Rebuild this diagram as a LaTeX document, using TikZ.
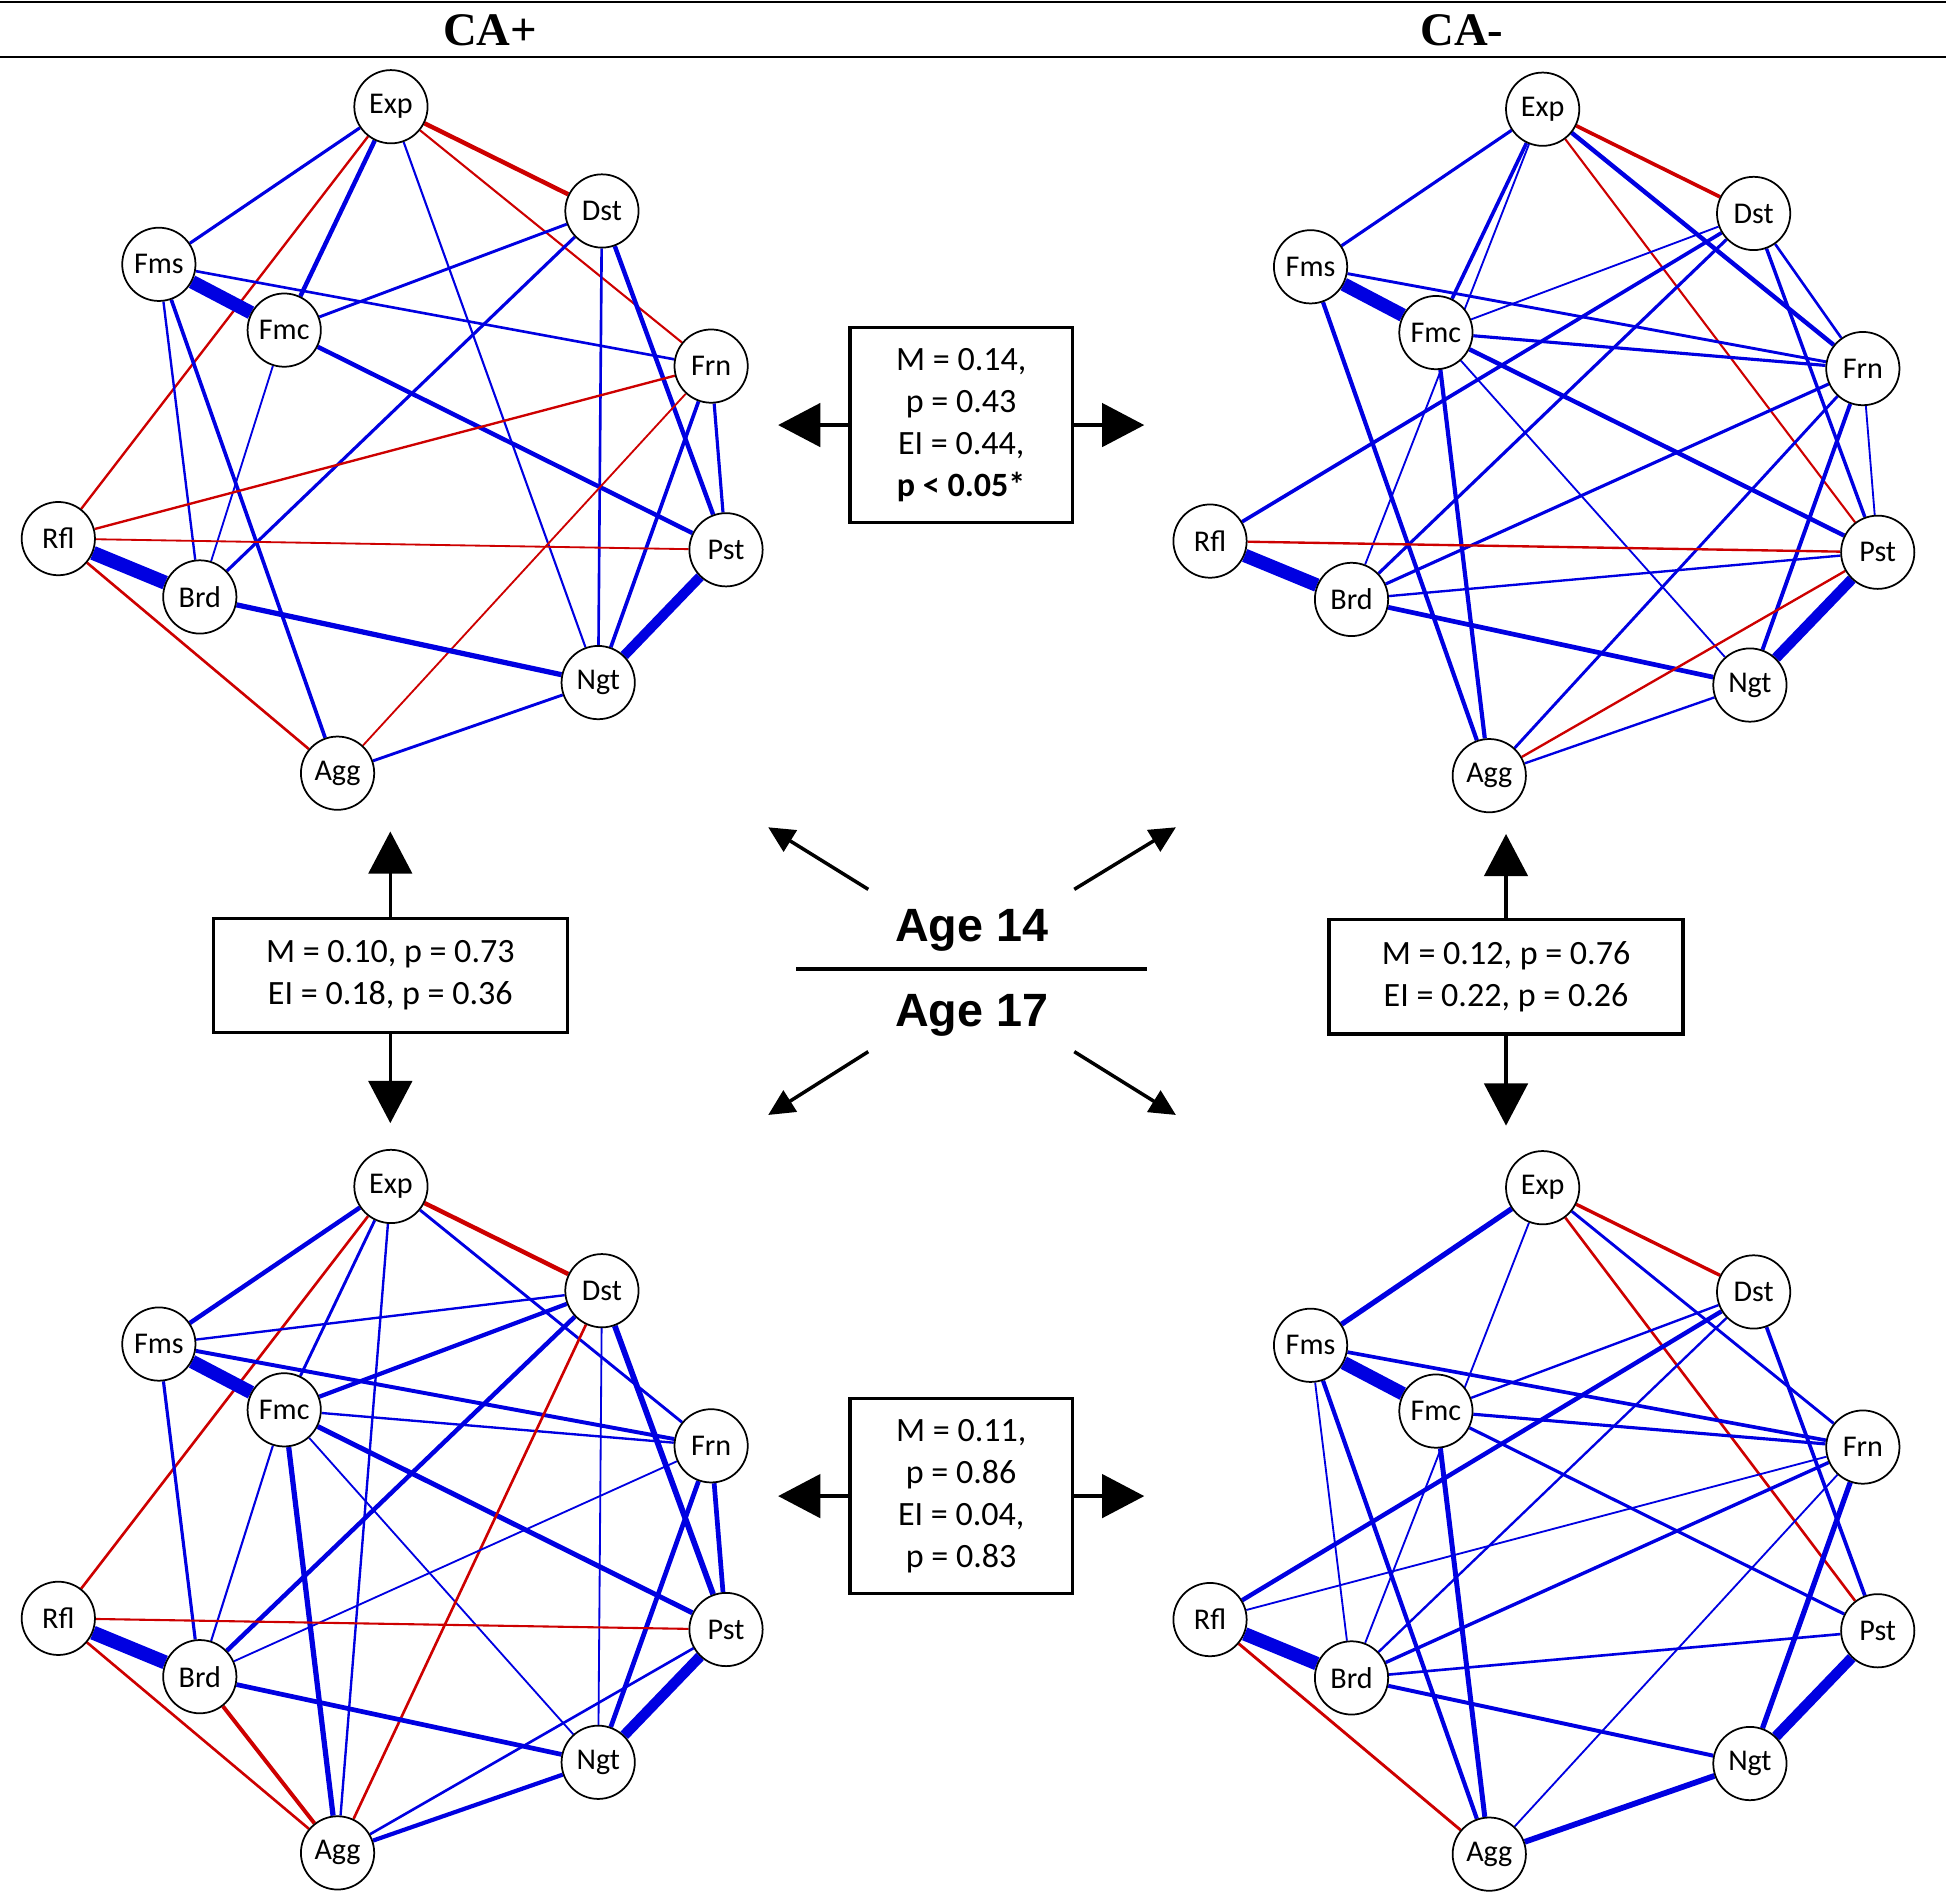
\documentclass[tikz,border=0pt]{standalone}
\usepackage{fontspec}
\setmainfont{Carlito}
\newfontfamily\headfont{Liberation Serif}
\newfontfamily\agefont{Liberation Sans}
\usepackage{xcolor}
\usepackage{tikz}
\usetikzlibrary{arrows.meta, backgrounds}
\definecolor{netblue}{RGB}{0,0,225}
\definecolor{netred}{RGB}{205,0,0}
\tikzset{
  itemnode/.style={circle, draw, line width=0.4pt, fill=white,
    minimum size=5.9mm, inner sep=0pt, font=\fontsize{6.9}{8}\selectfont},
  statbox/.style={draw, line width=0.8pt, align=center, fill=white,
    inner sep=0pt, font=\fontsize{7.8}{9.6}\selectfont},
  statarrow/.style={-{Triangle[length=3.4mm,width=3.5mm]}, line width=0.8pt},
  agearrow/.style={-{Triangle[length=2.1mm,width=2mm]}, line width=0.8pt},
  blueedge/.style={netblue, line width=1.2*#1},
  rededge/.style={netred, line width=1.2*#1},
  headlabel/.style={font=\headfont\bfseries\fontsize{10.7}{12}\selectfont},
  agelabel/.style={anchor=base, font=\agefont\bfseries\fontsize{10.7}{12}\selectfont},
}
% the ten items of one network
\newcommand{\placeitems}[1]{%
  \node[itemnode] (#1Exp) at (315,86)  {Exp};
  \node[itemnode] (#1Dst) at (485,170) {Dst};
  \node[itemnode] (#1Fms) at (128,213) {Fms};
  \node[itemnode] (#1Fmc) at (229,266) {Fmc};
  \node[itemnode] (#1Frn) at (573,295) {Frn};
  \node[itemnode] (#1Rfl) at (47,434)  {Rfl};
  \node[itemnode] (#1Pst) at (585,443) {Pst};
  \node[itemnode] (#1Brd) at (161,481) {Brd};
  \node[itemnode] (#1Ngt) at (482,550) {Ngt};
  \node[itemnode] (#1Agg) at (272,623) {Agg};
}

\begin{document}
\begin{tikzpicture}[x=0.01cm, y=-0.01cm]
  \useasboundingbox (0,0) rectangle (1568,1525);

  % header
  \coordinate (hdrTopL) at (0,1.5);
  \coordinate (hdrTopR) at (1568,1.5);
  \coordinate (hdrBotL) at (0,46);
  \coordinate (hdrBotR) at (1568,46);
  \draw[line width=0.6pt] (hdrTopL) -- (hdrTopR);
  \draw[line width=0.6pt] (hdrBotL) -- (hdrBotR);
  \node[headlabel] (capos) at (395,24) {CA+};
  \node[headlabel] (caneg) at (1178,24) {CA-};

  % networks
  \begin{scope}\placeitems{p14}\end{scope}
  \begin{scope}[shift={(928,2)}]\placeitems{n14}\end{scope}
  \begin{scope}[shift={(0,870)}]\placeitems{p17}\end{scope}
  \begin{scope}[shift={(928,871)}]\placeitems{n17}\end{scope}

  \begin{scope}[on background layer]
    % CA+, age 14
    \draw[blueedge=0.6pt]  (p14Exp) -- (p14Fms);
    \draw[blueedge=0.85pt] (p14Exp) -- (p14Fmc);
    \draw[rededge=0.45pt]  (p14Exp) -- (p14Rfl);
    \draw[rededge=0.85pt]  (p14Exp) -- (p14Dst);
    \draw[rededge=0.4pt]   (p14Exp) -- (p14Frn);
    \draw[blueedge=0.4pt]  (p14Exp) -- (p14Ngt);
    \draw[blueedge=2.6pt]  (p14Fms) -- (p14Fmc);
    \draw[blueedge=0.5pt]  (p14Fms) -- (p14Frn);
    \draw[blueedge=0.45pt] (p14Fms) -- (p14Brd);
    \draw[blueedge=0.7pt]  (p14Fms) -- (p14Agg);
    \draw[blueedge=0.55pt] (p14Fmc) -- (p14Dst);
    \draw[blueedge=0.85pt] (p14Fmc) -- (p14Pst);
    \draw[blueedge=0.35pt] (p14Fmc) -- (p14Brd);
    \draw[blueedge=0.6pt]  (p14Dst) -- (p14Brd);
    \draw[blueedge=0.5pt]  (p14Dst) -- (p14Ngt);
    \draw[blueedge=0.85pt] (p14Dst) -- (p14Pst);
    \draw[rededge=0.45pt]  (p14Frn) -- (p14Rfl);
    \draw[rededge=0.35pt]  (p14Frn) -- (p14Agg);
    \draw[blueedge=0.6pt]  (p14Frn) -- (p14Pst);
    \draw[blueedge=0.7pt]  (p14Frn) -- (p14Ngt);
    \draw[rededge=0.35pt]  (p14Rfl) -- (p14Pst);
    \draw[blueedge=2.7pt]  (p14Rfl) -- (p14Brd);
    \draw[rededge=0.5pt]   (p14Rfl) -- (p14Agg);
    \draw[blueedge=1pt]    (p14Brd) -- (p14Ngt);
    \draw[blueedge=1.9pt]  (p14Pst) -- (p14Ngt);
    \draw[blueedge=0.55pt] (p14Agg) -- (p14Ngt);

    % CA-, age 14
    \draw[blueedge=0.6pt]  (n14Exp) -- (n14Fms);
    \draw[blueedge=0.7pt]  (n14Exp) -- (n14Fmc);
    \draw[blueedge=0.35pt] (n14Exp) -- (n14Brd);
    \draw[rededge=0.7pt]   (n14Exp) -- (n14Dst);
    \draw[rededge=0.4pt]   (n14Exp) -- (n14Pst);
    \draw[blueedge=0.85pt] (n14Exp) -- (n14Frn);
    \draw[blueedge=2.6pt]  (n14Fms) -- (n14Fmc);
    \draw[blueedge=0.55pt] (n14Fms) -- (n14Frn);
    \draw[blueedge=0.8pt]  (n14Fms) -- (n14Agg);
    \draw[blueedge=0.35pt] (n14Fmc) -- (n14Dst);
    \draw[blueedge=0.6pt]  (n14Fmc) -- (n14Frn);
    \draw[blueedge=0.85pt] (n14Fmc) -- (n14Pst);
    \draw[blueedge=0.35pt] (n14Fmc) -- (n14Ngt);
    \draw[blueedge=0.8pt]  (n14Fmc) -- (n14Agg);
    \draw[blueedge=0.7pt]  (n14Dst) -- (n14Rfl);
    \draw[blueedge=0.6pt]  (n14Dst) -- (n14Brd);
    \draw[blueedge=0.5pt]  (n14Dst) -- (n14Frn);
    \draw[blueedge=0.65pt] (n14Dst) -- (n14Pst);
    \draw[blueedge=0.6pt]  (n14Frn) -- (n14Brd);
    \draw[blueedge=0.55pt] (n14Frn) -- (n14Agg);
    \draw[blueedge=0.35pt] (n14Frn) -- (n14Pst);
    \draw[blueedge=0.75pt] (n14Frn) -- (n14Ngt);
    \draw[rededge=0.45pt]  (n14Rfl) -- (n14Pst);
    \draw[blueedge=2.6pt]  (n14Rfl) -- (n14Brd);
    \draw[blueedge=0.45pt] (n14Brd) -- (n14Pst);
    \draw[blueedge=0.9pt]  (n14Brd) -- (n14Ngt);
    \draw[rededge=0.45pt]  (n14Pst) -- (n14Agg);
    \draw[blueedge=2pt]    (n14Pst) -- (n14Ngt);
    \draw[blueedge=0.45pt] (n14Ngt) -- (n14Agg);

    % CA+, age 17
    \draw[blueedge=0.85pt] (p17Exp) -- (p17Fms);
    \draw[rededge=0.5pt]   (p17Exp) -- (p17Rfl);
    \draw[blueedge=0.55pt] (p17Exp) -- (p17Fmc);
    \draw[blueedge=0.45pt] (p17Exp) -- (p17Agg);
    \draw[rededge=0.85pt]  (p17Exp) -- (p17Dst);
    \draw[blueedge=0.55pt] (p17Exp) -- (p17Frn);
    \draw[blueedge=0.45pt] (p17Fms) -- (p17Dst);
    \draw[blueedge=2.6pt]  (p17Fms) -- (p17Fmc);
    \draw[blueedge=0.75pt] (p17Fms) -- (p17Frn);
    \draw[blueedge=0.6pt]  (p17Fms) -- (p17Brd);
    \draw[blueedge=0.8pt]  (p17Fmc) -- (p17Dst);
    \draw[blueedge=0.45pt] (p17Fmc) -- (p17Frn);
    \draw[blueedge=0.95pt] (p17Fmc) -- (p17Pst);
    \draw[blueedge=0.35pt] (p17Fmc) -- (p17Ngt);
    \draw[blueedge=1pt]    (p17Fmc) -- (p17Agg);
    \draw[blueedge=0.4pt]  (p17Fmc) -- (p17Brd);
    \draw[blueedge=0.85pt] (p17Dst) -- (p17Brd);
    \draw[rededge=0.5pt]   (p17Dst) -- (p17Agg);
    \draw[blueedge=0.35pt] (p17Dst) -- (p17Ngt);
    \draw[blueedge=1.1pt]  (p17Dst) -- (p17Pst);
    \draw[blueedge=0.35pt] (p17Frn) -- (p17Brd);
    \draw[blueedge=0.9pt]  (p17Frn) -- (p17Pst);
    \draw[blueedge=0.9pt]  (p17Frn) -- (p17Ngt);
    \draw[rededge=0.4pt]   (p17Rfl) -- (p17Pst);
    \draw[blueedge=2.7pt]  (p17Rfl) -- (p17Brd);
    \draw[rededge=0.5pt]   (p17Rfl) -- (p17Agg);
    \draw[rededge=0.75pt]  (p17Brd) -- (p17Agg);
    \draw[blueedge=0.9pt]  (p17Brd) -- (p17Ngt);
    \draw[blueedge=0.5pt]  (p17Pst) -- (p17Agg);
    \draw[blueedge=2pt]    (p17Pst) -- (p17Ngt);
    \draw[blueedge=0.8pt]  (p17Ngt) -- (p17Agg);

    % CA-, age 17
    \draw[blueedge=1pt]    (n17Exp) -- (n17Fms);
    \draw[blueedge=0.35pt] (n17Exp) -- (n17Brd);
    \draw[rededge=0.65pt]  (n17Exp) -- (n17Dst);
    \draw[rededge=0.5pt]   (n17Exp) -- (n17Pst);
    \draw[blueedge=0.55pt] (n17Exp) -- (n17Frn);
    \draw[blueedge=2.6pt]  (n17Fms) -- (n17Fmc);
    \draw[blueedge=0.7pt]  (n17Fms) -- (n17Frn);
    \draw[blueedge=0.35pt] (n17Fms) -- (n17Brd);
    \draw[blueedge=0.8pt]  (n17Fms) -- (n17Agg);
    \draw[blueedge=0.45pt] (n17Fmc) -- (n17Dst);
    \draw[blueedge=0.6pt]  (n17Fmc) -- (n17Frn);
    \draw[blueedge=0.6pt]  (n17Fmc) -- (n17Pst);
    \draw[blueedge=0.95pt] (n17Fmc) -- (n17Agg);
    \draw[blueedge=0.85pt] (n17Dst) -- (n17Rfl);
    \draw[blueedge=0.45pt] (n17Dst) -- (n17Brd);
    \draw[blueedge=0.7pt]  (n17Dst) -- (n17Pst);
    \draw[blueedge=0.35pt] (n17Frn) -- (n17Rfl);
    \draw[blueedge=0.65pt] (n17Frn) -- (n17Brd);
    \draw[blueedge=0.35pt] (n17Frn) -- (n17Agg);
    \draw[blueedge=1pt]    (n17Frn) -- (n17Ngt);
    \draw[blueedge=2.6pt]  (n17Rfl) -- (n17Brd);
    \draw[rededge=0.55pt]  (n17Rfl) -- (n17Agg);
    \draw[blueedge=0.5pt]  (n17Brd) -- (n17Pst);
    \draw[blueedge=0.75pt] (n17Brd) -- (n17Ngt);
    \draw[blueedge=2pt]    (n17Pst) -- (n17Ngt);
    \draw[blueedge=1.1pt]  (n17Ngt) -- (n17Agg);
  \end{scope}

  % comparison boxes
  \node[statbox, minimum width=17.9mm, minimum height=15.7mm] (cmp14) at (774.5,342.5)
    {M = 0.14,\\p = 0.43\\EI = 0.44,\\\textbf{p < 0.05*}};
  \node[statbox, minimum width=17.9mm, minimum height=15.7mm] (cmp17) at (774.5,1205.5)
    {M = 0.11,\\p = 0.86\\EI = 0.04,\\p = 0.83};
  \node[statbox, minimum width=28.5mm, minimum height=9.2mm] (cmppos) at (314.5,786)
    {M = 0.10, p = 0.73\\EI = 0.18, p = 0.36};
  \node[statbox, minimum width=28.5mm, minimum height=9.2mm] (cmpneg) at (1213.5,787)
    {M = 0.12, p = 0.76\\EI = 0.22, p = 0.26};

  \coordinate (tip14L) at (627,342.5);
  \coordinate (tip14R) at (922,342.5);
  \coordinate (tip17L) at (627,1205.5);
  \coordinate (tip17R) at (922,1205.5);
  \coordinate (tipposU) at (314.5,670);
  \coordinate (tipposD) at (314.5,905);
  \coordinate (tipnegU) at (1213.5,672);
  \coordinate (tipnegD) at (1213.5,907);
  \draw[statarrow] (cmp14.west) -- (tip14L);
  \draw[statarrow] (cmp14.east) -- (tip14R);
  \draw[statarrow] (cmp17.west) -- (tip17L);
  \draw[statarrow] (cmp17.east) -- (tip17R);
  \draw[statarrow] (cmppos.north) -- (tipposU);
  \draw[statarrow] (cmppos.south) -- (tipposD);
  \draw[statarrow] (cmpneg.north) -- (tipnegU);
  \draw[statarrow] (cmpneg.south) -- (tipnegD);

  % age legend
  \node[agelabel] (age14) at (783,758.7) {Age 14};
  \node[agelabel] (age17) at (783,827.2) {Age 17};
  \coordinate (ruleL) at (641.4,780.8);
  \coordinate (ruleR) at (924,780.8);
  \draw[line width=0.8pt] (ruleL) -- (ruleR);

  \coordinate (nwFrom) at (699.6,716.6);
  \coordinate (nwTo)   at (619,666.6);
  \coordinate (neFrom) at (865.6,716.6);
  \coordinate (neTo)   at (947.5,666.6);
  \coordinate (swFrom) at (699.6,847.4);
  \coordinate (swTo)   at (619,898.4);
  \coordinate (seFrom) at (865.6,847.4);
  \coordinate (seTo)   at (947.5,898.4);
  \draw[agearrow] (nwFrom) -- (nwTo);
  \draw[agearrow] (neFrom) -- (neTo);
  \draw[agearrow] (swFrom) -- (swTo);
  \draw[agearrow] (seFrom) -- (seTo);
\end{tikzpicture}
\end{document}
